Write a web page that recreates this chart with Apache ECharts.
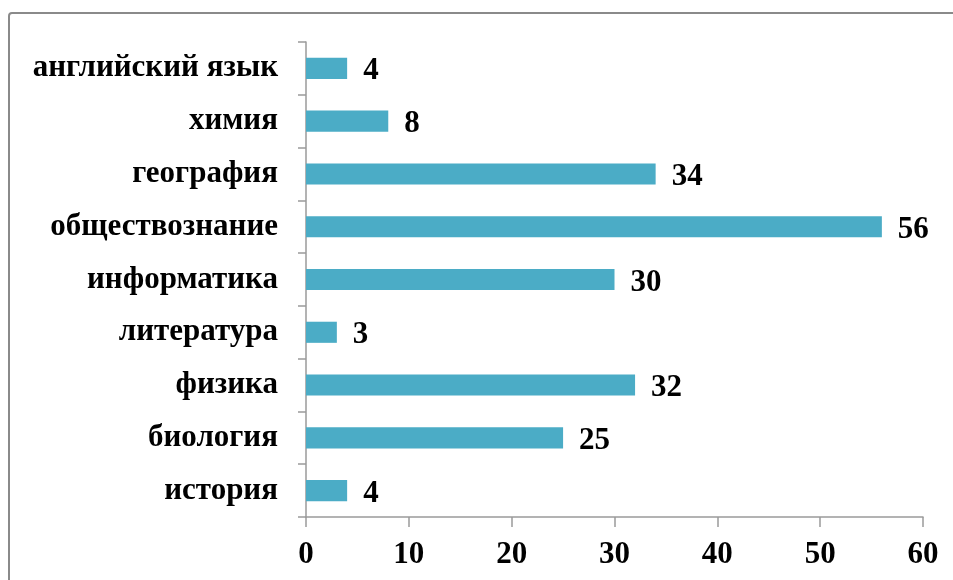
<!DOCTYPE html>
<html><head><meta charset="utf-8">
<script src="https://cdn.jsdelivr.net/npm/echarts@6/dist/echarts.min.js"></script>
<style>html,body{margin:0;padding:0;background:#fff}#c{width:953px;height:580px}
#frame{position:absolute;left:8px;top:12px;width:960px;height:600px;border:2px solid #8a8a8a;border-radius:4px;box-sizing:border-box;pointer-events:none}</style>
</head><body>
<div id="c"></div><div id="frame"></div>
<script>
const categories = ['история','биология','физика','литература','информатика','обществознание','география','химия','английский язык'];
const values = [4,25,32,3,30,56,34,8,4];
const xTicks = [0,10,20,30,40,50,60];
const chart = echarts.init(document.getElementById('c'));
const font = '"Liberation Serif","Times New Roman",serif';
chart.setOption({
  animation:false,
  grid:{left:306,right:30,top:42,bottom:63},
  xAxis:{type:'value',min:xTicks[0],max:xTicks[xTicks.length-1],interval:10,
    splitLine:{show:false},
    axisLine:{show:true,lineStyle:{color:'#9a9a9a',width:1.5}},
    axisTick:{show:true,length:10,lineStyle:{color:'#9a9a9a',width:1.5}},
    axisLabel:{color:'#000',fontFamily:font,fontWeight:'bold',fontSize:31,margin:22}},
  yAxis:{type:'category',data:categories,
    axisLine:{show:true,lineStyle:{color:'#9a9a9a',width:1.5}},
    axisTick:{show:true,length:8,lineStyle:{color:'#9a9a9a',width:1.5}},
    axisLabel:{color:'#000',fontFamily:font,fontWeight:'bold',fontSize:31,margin:28,padding:[5,0,0,0]}},
  series:[{type:'bar',data:values,barCategoryGap:'60%',
    itemStyle:{color:'#4bacc6'},
    label:{show:true,position:'right',distance:16,offset:[0,3],color:'#000',fontFamily:font,fontWeight:'bold',fontSize:31}}]
});
</script></body></html>
